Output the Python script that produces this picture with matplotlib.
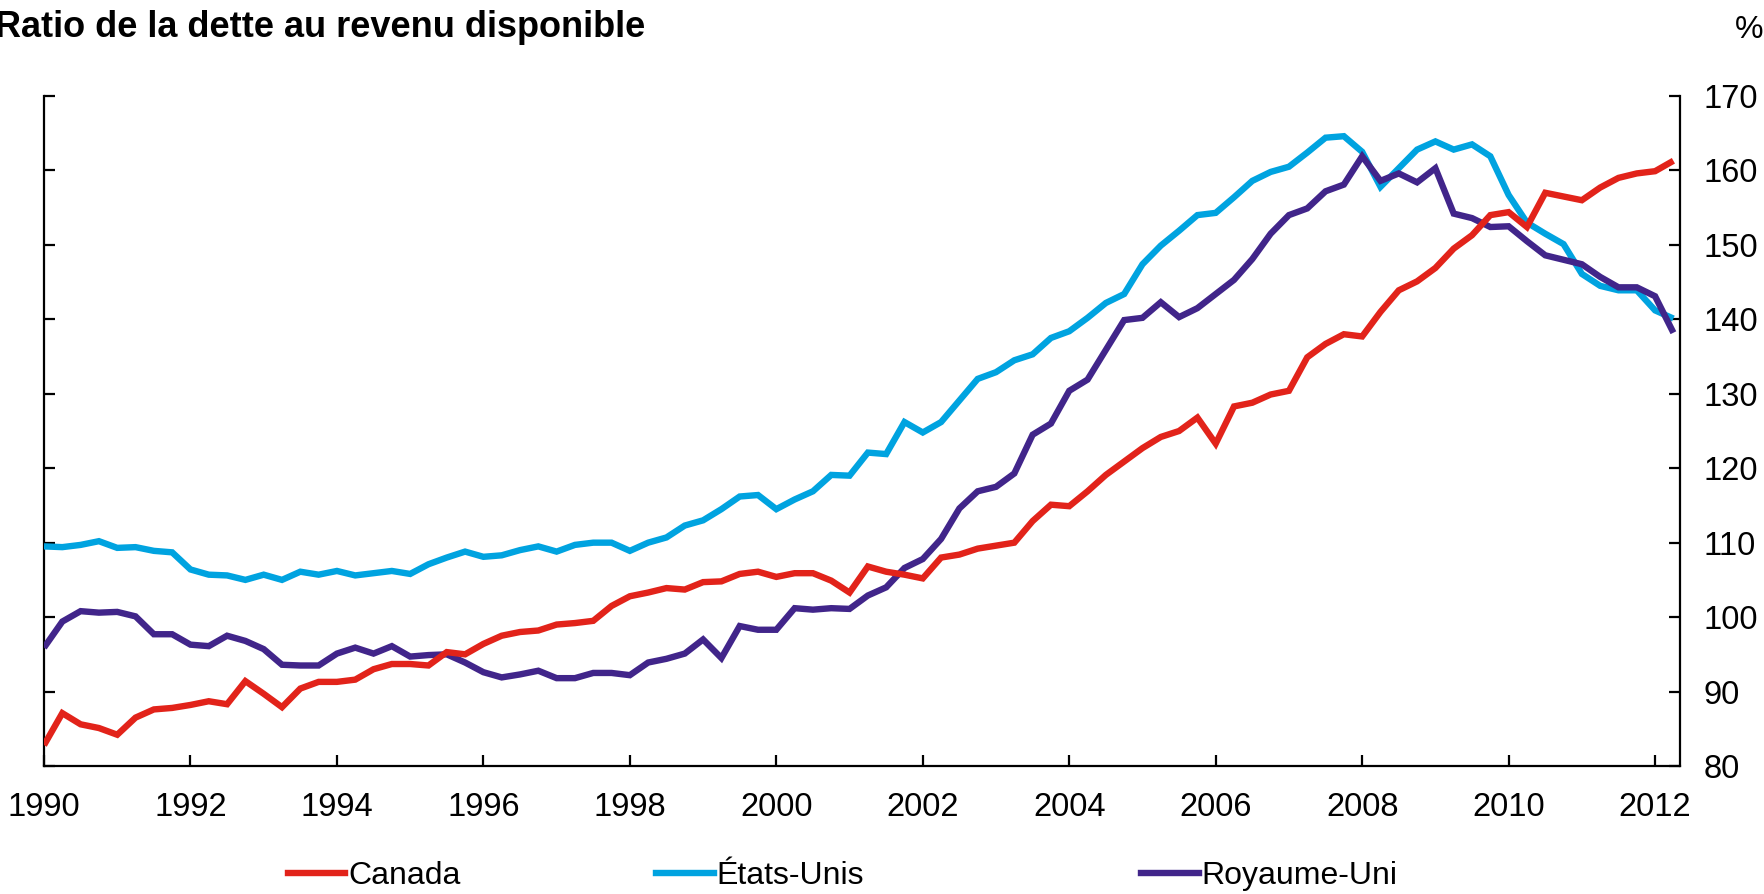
import numpy as np
import matplotlib
matplotlib.use("Agg")
import matplotlib.pyplot as plt
from matplotlib.lines import Line2D

plt.rcParams['font.family'] = ['Liberation Sans', 'DejaVu Sans']

# Quarterly data, 1990Q1 .. 2012Q2
start_year = 1990
canada = [82.8, 87.1, 85.6, 85.1, 84.2, 86.5, 87.6, 87.8,
          88.2, 88.7, 88.3, 91.4, 89.7, 87.9, 90.4, 91.3,
          91.3, 91.6, 93.0, 93.7, 93.7, 93.5, 95.3, 95.0,
          96.4, 97.5, 98.0, 98.2, 99.0, 99.2, 99.5, 101.5,
          102.8, 103.3, 103.9, 103.7, 104.7, 104.8, 105.8, 106.1,
          105.4, 105.9, 105.9, 104.9, 103.3, 106.8, 106.1, 105.7,
          105.2, 108.0, 108.4, 109.2, 109.6, 110.0, 112.9, 115.1,
          114.9, 116.9, 119.1, 120.9, 122.7, 124.2, 125.0, 126.8,
          123.3, 128.3, 128.8, 129.9, 130.4, 134.9, 136.7, 138.0,
          137.7, 141.0, 143.9, 145.1, 146.9, 149.5, 151.3, 154.0,
          154.4, 152.4, 157.0, 156.5, 156.0, 157.7, 159.0, 159.6,
          159.9, 161.3]
etats_unis = [109.5, 109.4, 109.7, 110.2, 109.3, 109.4, 108.9, 108.7,
              106.4, 105.7, 105.6, 105.0, 105.7, 105.0, 106.1, 105.7,
              106.2, 105.6, 105.9, 106.2, 105.8, 107.1, 108.0, 108.8,
              108.1, 108.3, 109.0, 109.5, 108.8, 109.7, 110.0, 110.0,
              108.9, 110.0, 110.7, 112.3, 113.0, 114.5, 116.2, 116.4,
              114.5, 115.8, 116.9, 119.1, 119.0, 122.1, 121.9, 126.2,
              124.8, 126.2, 129.1, 132.0, 132.9, 134.5, 135.3, 137.5,
              138.4, 140.2, 142.2, 143.4, 147.4, 149.9, 151.9, 154.0,
              154.3, 156.4, 158.6, 159.8, 160.5, 162.4, 164.4, 164.6,
              162.5, 157.8, 160.3, 162.8, 163.9, 162.8, 163.5, 161.9,
              156.7, 153.0, 151.5, 150.1, 146.1, 144.5, 143.9, 143.9,
              141.2, 140.1]
royaume_uni = [95.9, 99.4, 100.8, 100.6, 100.7, 100.1, 97.7, 97.7,
               96.3, 96.1, 97.5, 96.8, 95.7, 93.6, 93.5, 93.5,
               95.1, 95.9, 95.1, 96.1, 94.7, 94.9, 95.0, 93.9,
               92.6, 91.9, 92.3, 92.8, 91.8, 91.8, 92.5, 92.5,
               92.2, 93.9, 94.4, 95.1, 97.0, 94.5, 98.8, 98.3,
               98.3, 101.2, 101.0, 101.2, 101.1, 102.9, 104.0, 106.6,
               107.8, 110.5, 114.6, 116.9, 117.5, 119.3, 124.5, 126.0,
               130.4, 131.9, 135.9, 139.9, 140.2, 142.3, 140.3, 141.5,
               143.4, 145.3, 148.1, 151.5, 154.0, 154.9, 157.2, 158.1,
               161.9, 158.6, 159.6, 158.4, 160.3, 154.2, 153.6, 152.4,
               152.5, 150.5, 148.6, 148.0, 147.4, 145.7, 144.3, 144.3,
               143.1, 138.2]

labels = ["Canada", "États-Unis", "Royaume-Uni"]
colors = ["#E2231A", "#00A3E0", "#41258A"]
x_ticks = list(range(1990, 2013, 2))
y_ticks = list(range(80, 171, 10))

t = start_year + np.arange(len(canada)) * 0.25

fig = plt.figure(figsize=(17.65, 8.94), dpi=100)
ax = fig.add_axes([44 / 1765, 1 - 766 / 894, (1680 - 44) / 1765, (766 - 96) / 894])

lw = 4.6
series = [canada, etats_unis, royaume_uni]
zorders = [5, 3, 4]
lines = []
for s, c, lab, z in zip(series, colors, labels, zorders):
    ln, = ax.plot(t, s, color=c, lw=lw, label=lab, zorder=z,
                  solid_joinstyle='miter', solid_capstyle='butt')
    lines.append(ln)

ax.set_xlim(1990, 2012.34)
ax.set_ylim(80, 170)
ax.set_xticks(x_ticks)
ax.set_xticklabels([str(v) for v in x_ticks])
ax.set_yticks(y_ticks)
ax.set_yticklabels([str(v) for v in y_ticks])

for side in ['left', 'right', 'bottom']:
    ax.spines[side].set_linewidth(1.6)
    ax.spines[side].set_color('black')
ax.spines['top'].set_visible(False)

ax.tick_params(axis='y', which='both', direction='in', length=8, width=1.6,
               left=True, right=True, labelleft=False, labelright=True,
               labelsize=23.5, pad=17)
ax.tick_params(axis='x', direction='in', length=8, width=1.6,
               labelsize=23.5, pad=19)

fig.text(-5 / 1765, 1 - 37 / 894, "Ratio de la dette au revenu disponible",
         fontsize=26, fontweight='bold', ha='left', va='baseline')
fig.text(1763 / 1765, 1 - 38 / 894, "%", fontsize=23, ha='right', va='baseline')

# legend entries placed individually
leg_x = [288 / 1765, 656 / 1765, 1141 / 1765]
for ln, lx in zip(lines, leg_x):
    h = Line2D([], [], color=ln.get_color(), lw=lw)
    fig.legend([h], [ln.get_label()], loc='center left',
               bbox_to_anchor=(lx, 1 - 876 / 894), frameon=False,
               fontsize=23, handlelength=1.8, handletextpad=0.08,
               borderaxespad=0, borderpad=0)

fig.savefig("out.png", dpi=100)
